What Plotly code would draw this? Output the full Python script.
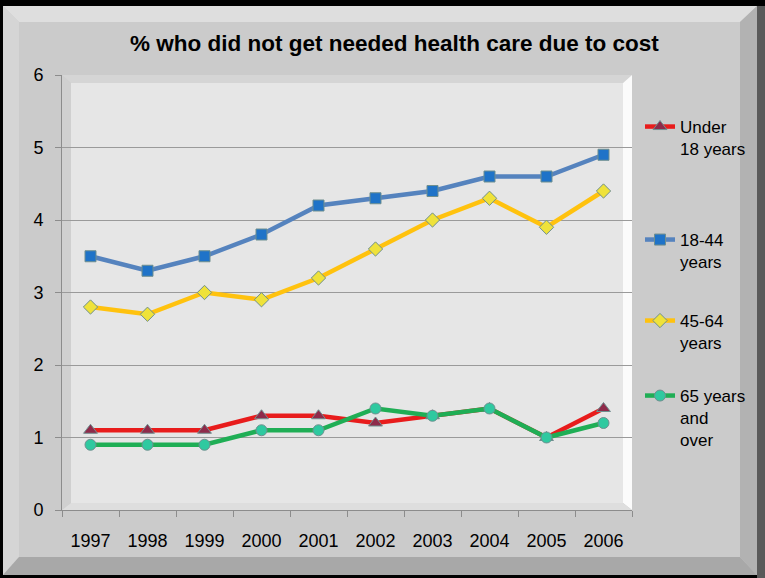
import plotly.graph_objects as go

years = ["1997", "1998", "1999", "2000", "2001", "2002", "2003", "2004", "2005", "2006"]
under18 = [1.1, 1.1, 1.1, 1.3, 1.3, 1.2, 1.3, 1.4, 1.0, 1.4]
age18_44 = [3.5, 3.3, 3.5, 3.8, 4.2, 4.3, 4.4, 4.6, 4.6, 4.9]
age45_64 = [2.8, 2.7, 3.0, 2.9, 3.2, 3.6, 4.0, 4.3, 3.9, 4.4]
age65 = [0.9, 0.9, 0.9, 1.1, 1.1, 1.4, 1.3, 1.4, 1.0, 1.2]
names = ["Under<br>18 years", "18-44<br>years", "45-64<br>years", "65 years<br>and<br>over"]

W, H = 765, 578
L, R, T, B = 62, 632, 75, 510


def px(x):
    return (x - L) / (R - L)


def py(y):
    return (B - y) / (B - T)


def poly(pts, fill):
    d = "M " + " L ".join(f"{px(a):.5f} {py(b):.5f}" for a, b in pts) + " Z"
    return dict(type="path", xref="paper", yref="paper", layer="below",
                path=d, fillcolor=fill, line=dict(width=0))


FONT = "Liberation Sans"

series = [
    (under18, names[0], "#e81c1c", "triangle-up", "#8e2a4a", 12),
    (age18_44, names[1], "#5583be", "square", "#1f73c8", 11),
    (age45_64, names[2], "#ffc20e", "diamond", "#efe23a", 11),
    (age65, names[3], "#1fae55", "circle", "#2fc9a0", 11),
]
legend_y = [126, 239, 320, 395]

fig = go.Figure()
for i, (vals, nm, lc, sym, mc, ms) in enumerate(series):
    lg = "legend" if i == 0 else f"legend{i+1}"
    fig.add_trace(go.Scatter(
        x=years, y=vals, name=nm, mode="lines+markers",
        line=dict(color=lc, width=4.5),
        marker=dict(symbol=sym, size=ms, color=mc, line=dict(color="#6f8f8f", width=1)),
        legend=lg,
    ))

legend_common = dict(
    bgcolor="rgba(0,0,0,0)", font=dict(family=FONT, size=17, color="#000000"),
    xanchor="left", yanchor="top", itemwidth=30, valign="top",
)
lay_legends = {}
for i, yy in enumerate(legend_y):
    key = "legend" if i == 0 else f"legend{i+1}"
    lay_legends[key] = dict(legend_common, x=px(640), y=py(yy - 17))

shapes = [
    # frame
    dict(type="rect", xref="paper", yref="paper", x0=px(0), x1=px(W), y0=py(H), y1=py(0),
         fillcolor="#000000", line=dict(width=0), layer="below"),
    poly([(3, 6), (757, 6), (757, 575), (3, 575)], "#cbcbcb"),
    poly([(3, 6), (757, 6), (740, 22), (19, 22)], "#dedede"),
    poly([(3, 6), (19, 22), (19, 557), (3, 575)], "#d5d5d5"),
    poly([(757, 6), (765, 6), (765, 578), (757, 578)], "#5a5a5a"),
    poly([(740, 22), (757, 6), (757, 575), (740, 557)], "#b2b2b2"),
    poly([(19, 557), (740, 557), (757, 575), (3, 575)], "#a8a8a8"),
    # plot area walls
    poly([(62, 75), (71, 83), (71, 503), (62, 510)], "#d0d0d0"),
    poly([(62, 75), (632, 75), (623, 83), (71, 83)], "#d5d5d5"),
    poly([(632, 75), (632, 510), (623, 503), (623, 83)], "#fbfbfb"),
    poly([(62, 510), (632, 510), (623, 503), (71, 503)], "#dedede"),
    poly([(71, 83), (623, 83), (623, 503), (71, 503)], "#e6e6e6"),
]

fig.update_layout(
    width=W, height=H,
    margin=dict(l=L, r=W - R, t=T, b=H - B),
    paper_bgcolor="#cbcbcb",
    plot_bgcolor="rgba(0,0,0,0)",
    showlegend=True,
    font=dict(family=FONT, size=18, color="#000000"),
    shapes=shapes,
    annotations=[dict(
        text="<b>% who did not get needed health care due to cost</b>",
        xref="paper", yref="paper", x=px(394), y=py(43), xanchor="center", yanchor="middle",
        showarrow=False, font=dict(family=FONT, size=22.5, color="#000000"),
    )],
    xaxis=dict(
        type="category", range=[-0.5, 9.5], showgrid=False, zeroline=False,
        showline=True, linecolor="#8c8c8c", linewidth=1,
        ticks="outside", tickson="boundaries", ticklen=6, tickcolor="#8c8c8c",
        ticklabelstandoff=14, tickfont=dict(family=FONT, size=18),
    ),
    yaxis=dict(
        range=[0, 6], dtick=1, showgrid=True, gridcolor="#9a9a9a", gridwidth=1,
        zeroline=False, showline=True, linecolor="#8c8c8c", linewidth=1,
        ticks="outside", ticklen=6, tickcolor="#8c8c8c", ticklabelstandoff=8,
        tickfont=dict(family=FONT, size=18),
    ),
    **lay_legends,
)

fig.write_html("out.html", config={"displayModeBar": False},
               post_script="document.body.style.margin='0';")
